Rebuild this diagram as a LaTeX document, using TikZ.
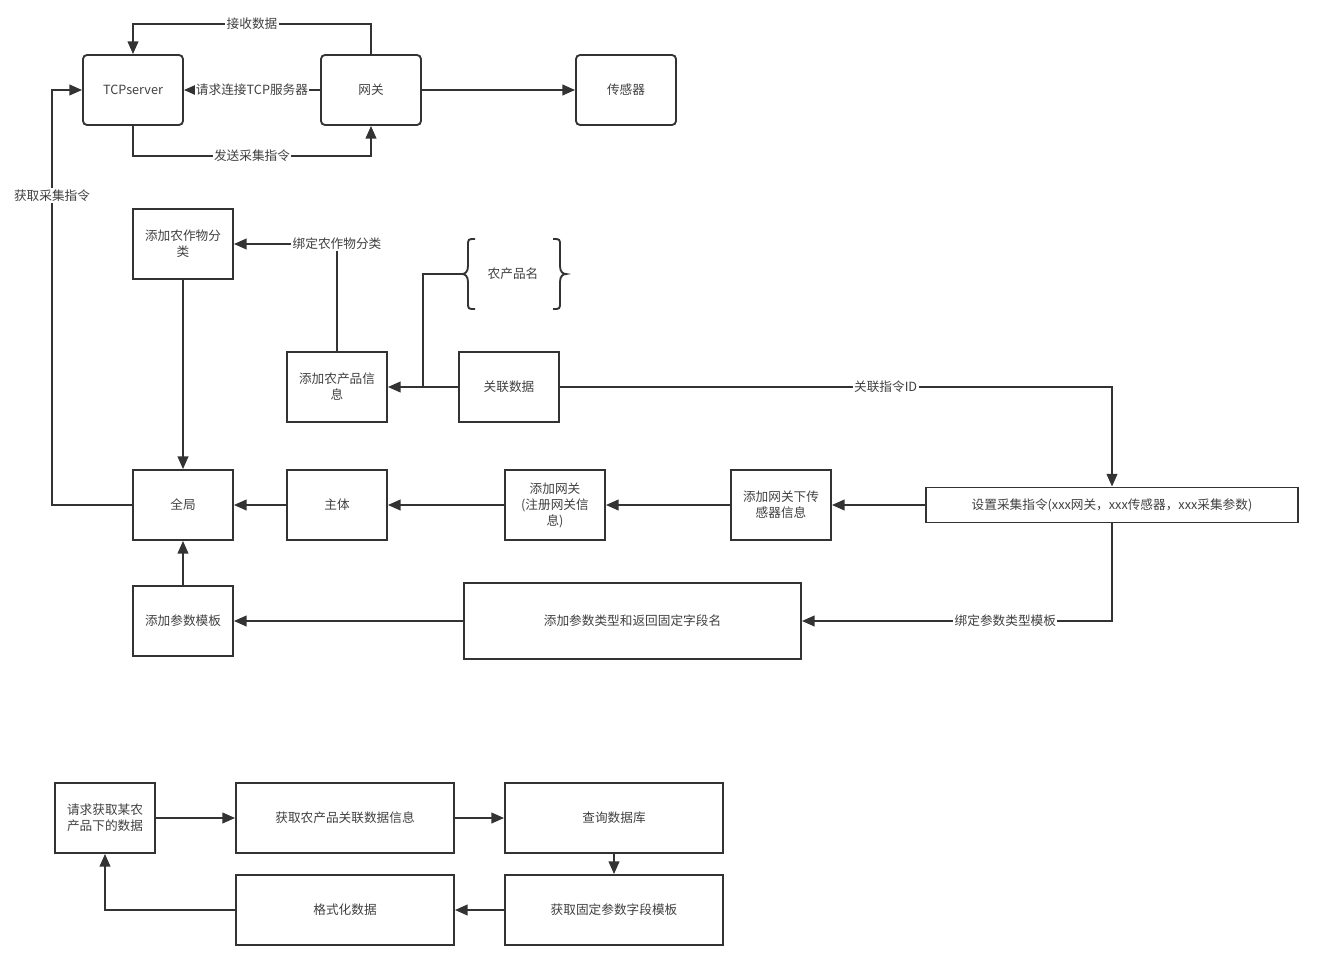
\documentclass[tikz,border=0pt]{standalone}
\usepackage{fontspec}
\setmainfont{Noto Sans CJK SC}
\usetikzlibrary{arrows.meta}
\definecolor{linec}{HTML}{333333}
\definecolor{textc}{HTML}{404040}
\begin{document}
\begin{tikzpicture}
[
    x=0.75pt, y=-0.75pt,
    every node/.style={font=\fontsize{9.5pt}{12pt}\selectfont, text=textc},
    box/.style={draw=linec, line width=1.4pt, minimum width=75pt, minimum height=52.5pt, align=center, inner sep=2pt},
    rbox/.style={box, rounded corners=3pt},
    lbl/.style={fill=white, inner sep=1pt},
    line/.style={draw=linec, line width=1.4pt},
    arr/.style={line, -{Triangle[length=9.5pt,width=8pt]}}
]
    \useasboundingbox (0,0) rectangle (1323,970);

    % top row
    \node [rbox] (tcp) at (133,90) {TCPserver};
    \node [rbox] (gw) at (371,90) {网关};
    \node [rbox] (sensor) at (626,90) {传感器};

    \draw [arr] (gw.north) -- ++(0,-30) -| node [lbl, pos=0.25] {接收数据} (tcp.north);
    \draw [arr] (gw) -- node [lbl] {请求连接TCP服务器} (tcp);
    \draw [arr] (tcp.south) -- ++(0,30) -| node [lbl, pos=0.25] {发送采集指令} (gw.south);
    \draw [arr] (gw) -- (sensor);

    % product part
    \node [box] (crop) at (183,244) {添加农作物分\\类};
    \node [box] (prod) at (337,387) {添加农产品信\\息};
    \node [box] (link) at (509,387) {关联数据};
    \node (pname) at (513,274) {农产品名};
    \coordinate (pnameL) at (462,274);
    \coordinate (fork) at (423,387);
    \draw [line] (475,239) .. controls (468,239) .. (468,246) -- (468,266)
        .. controls (468,272) and (465,274) .. (462,274)
        .. controls (465,274) and (468,276) .. (468,282)
        -- (468,302) .. controls (468,309) .. (475,309);
    \draw [line] (553,239) .. controls (560,239) .. (560,246) -- (560,266)
        .. controls (560,272) and (563,274) .. (566,274)
        .. controls (563,274) and (560,276) .. (560,282)
        -- (560,302) .. controls (560,309) .. (553,309);

    \draw [arr] (prod.north) |- node [lbl, pos=0.5] {绑定农作物分类} (crop.east);
    \draw [arr] (link) -- (prod);
    \draw [line] (fork) |- (pnameL);

    % middle row
    \node [box] (global) at (183,505) {全局};
    \node [box] (subject) at (337,505) {主体};
    \node [box] (addgw) at (555,505) {添加网关\\(注册网关信\\息)};
    \node [box] (addsen) at (781,505) {添加网关下传\\感器信息};
    \node [box, minimum width=279pt, minimum height=26.25pt] (setcmd) at (1112,505) {设置采集指令(xxx网关，xxx传感器，xxx采集参数)};
    \node [box] (tmpl) at (183,621) {添加参数模板};
    \node [box, minimum width=252.75pt, minimum height=57pt] (ptype) at (632.5,621) {添加参数类型和返回固定字段名};

    \draw [arr] (link.east) -| node [lbl, pos=0.295] {关联指令ID} (setcmd.north);
    \draw [arr] (crop) -- (global);
    \draw [arr] (setcmd) -- (addsen);
    \draw [arr] (addsen) -- (addgw);
    \draw [arr] (addgw) -- (subject);
    \draw [arr] (subject) -- (global);
    \draw [arr] (tmpl) -- (global);
    \draw [arr] (ptype) -- (tmpl);
    \draw [arr] (setcmd.south) |- node [lbl, pos=0.672] {绑定参数类型模板} (ptype.east);
    \draw [arr] (global.west) -- ++(-80,0) |- node [lbl, pos=0.373] {获取采集指令} (tcp.west);

    % query flow
    \node [box] (req) at (105,818) {请求获取某农\\产品下的数据};
    \node [box, minimum width=163.5pt] (getlink) at (345,818) {获取农产品关联数据信息};
    \node [box, minimum width=163.5pt] (query) at (614,818) {查询数据库};
    \node [box, minimum width=163.5pt] (gettmpl) at (614,910) {获取固定参数字段模板};
    \node [box, minimum width=163.5pt] (fmt) at (345,910) {格式化数据};

    \draw [arr] (req) -- (getlink);
    \draw [arr] (getlink) -- (query);
    \draw [arr] (query) -- (gettmpl);
    \draw [arr] (gettmpl) -- (fmt);
    \draw [arr] (fmt.west) -| (req.south);
\end{tikzpicture}
\end{document}
